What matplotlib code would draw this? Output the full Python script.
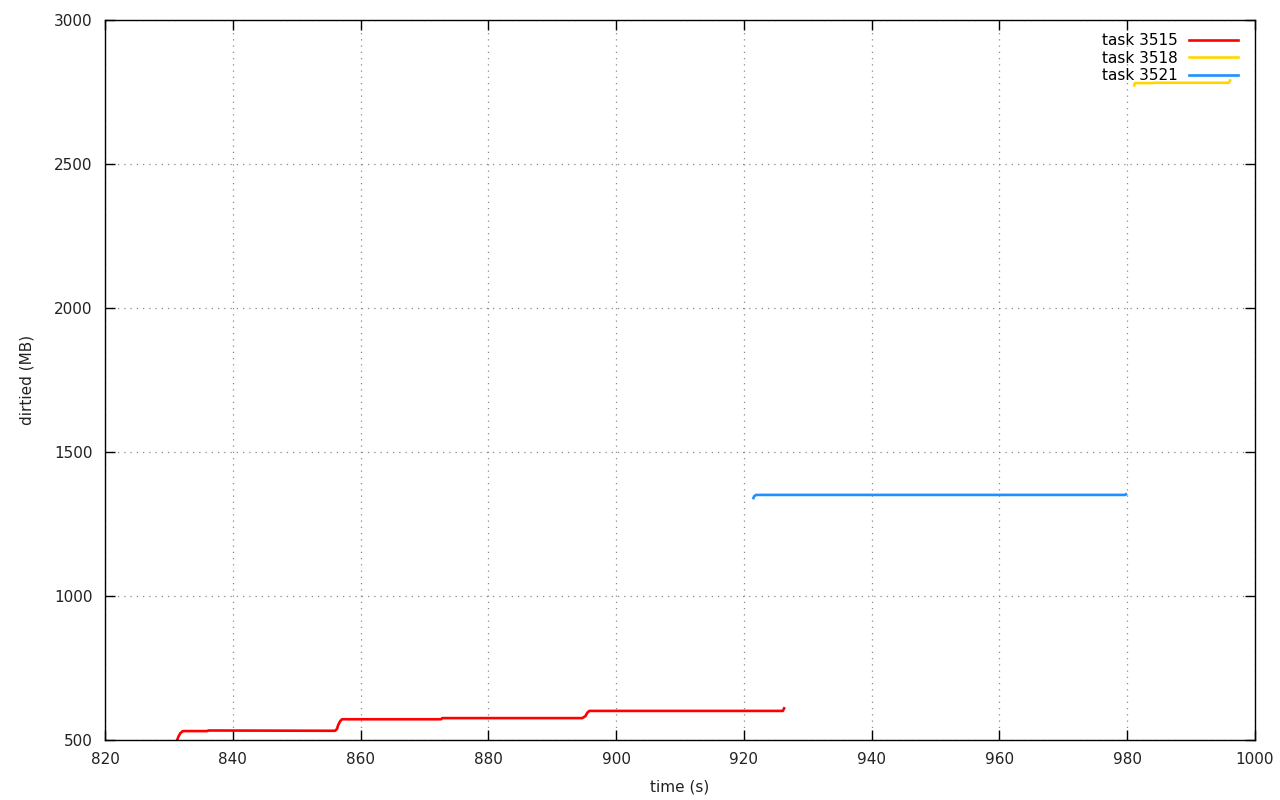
import matplotlib
matplotlib.use('Agg')
import matplotlib.pyplot as plt

# task 3515 (red)
red_t = [831.3, 831.5, 831.8, 832.2, 836.0, 836.2, 856.0, 856.3, 856.5, 856.8, 857.1,
         872.6, 872.8, 894.7, 895.2, 895.5, 895.8, 926.1, 926.2, 926.3]
red_mb = [500, 512, 524, 531, 531, 533, 532, 538, 552, 565, 572,
          572, 576, 576, 583, 595, 601, 601, 606, 610]

# task 3518 (yellow)
yel_t = [981.1, 981.2, 984.0, 984.2, 995.9, 996.1]
yel_mb = [2773, 2781, 2781, 2782, 2782, 2790]

# task 3521 (blue)
blu_t = [921.5, 921.6, 921.9, 979.7, 979.8]
blu_mb = [1340, 1346, 1351, 1351, 1353]

plt.rcParams['font.family'] = ['DejaVu Sans']
fig = plt.figure(figsize=(12.8, 8), dpi=100)
ax = fig.add_axes([105/1280, 60/800, 1150/1280, 720/800])

ax.plot(red_t, red_mb, color='#ff0000', lw=1.9, label='task 3515')
ax.plot(yel_t, yel_mb, color='#ffd700', lw=1.9, label='task 3518')
ax.plot(blu_t, blu_mb, color='#1e90ff', lw=1.9, label='task 3521')

ax.set_xlim(820, 1000)
ax.set_ylim(500, 3000)
ax.set_xticks(range(820, 1001, 20))
ax.set_yticks(range(500, 3001, 500))
ax.grid(True, color='#8a8a8a', linestyle=(0, (1, 4)), linewidth=0.9)
ax.tick_params(direction='in', length=7, top=True, right=True, labelsize=11, width=1,
               labelcolor='#222222')
ax.tick_params(axis='x', pad=9)
ax.tick_params(axis='y', pad=9)
for s in ax.spines.values():
    s.set_linewidth(1)

ax.set_xlabel('time (s)', fontsize=11, labelpad=9, color='#222222')
ax.set_ylabel('dirtied (MB)', fontsize=11, labelpad=14, color='#222222')

leg = ax.legend(loc='upper right', bbox_to_anchor=(0.9955, 0.9985), frameon=False,
                markerfirst=False, fontsize=11, handlelength=3.2, labelspacing=0.15,
                borderaxespad=0.4, handletextpad=0.7)

fig.savefig('out.png', dpi=100)
